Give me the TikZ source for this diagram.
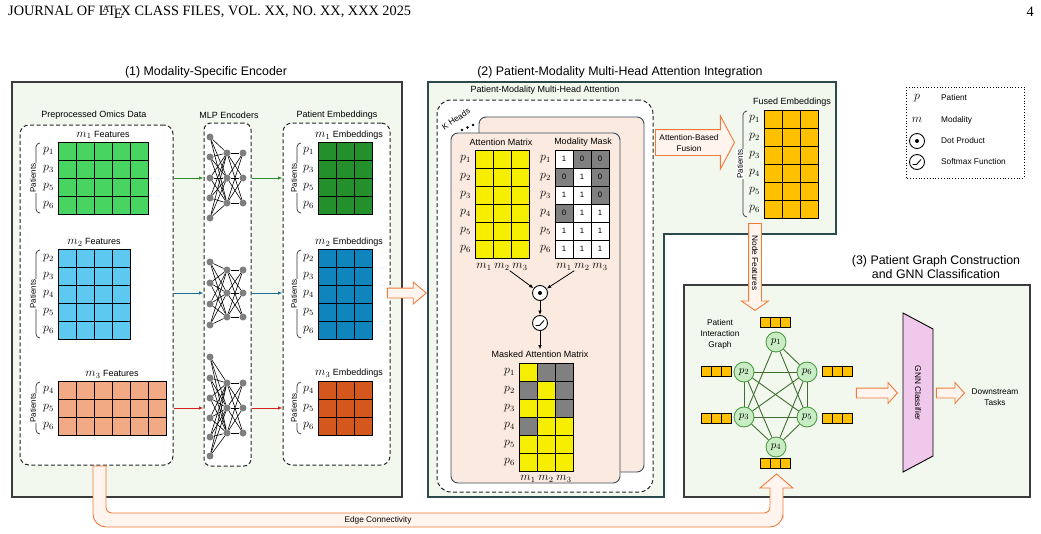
\documentclass[tikz,border=0pt]{standalone}
\usepackage{fontspec}
\setmainfont{Liberation Sans}
\newfontfamily\hdrfont{Liberation Serif}
\usetikzlibrary{arrows.meta, shapes.arrows}

\definecolor{cPanel}{HTML}{F2F8EE}
\definecolor{cFrame}{HTML}{3C3C3C}
\definecolor{cFrameB}{HTML}{2C4A4E}
\definecolor{cCard}{HTML}{FBEAE0}
\definecolor{cCardLine}{HTML}{3D4B5C}
\definecolor{cHollow}{HTML}{F07A3A}
\definecolor{cHollowFill}{HTML}{FFF5EE}
\definecolor{cOmA}{HTML}{48D460}
\definecolor{cOmB}{HTML}{5DC9F1}
\definecolor{cOmC}{HTML}{F1AA84}
\definecolor{cEmA}{HTML}{24902C}
\definecolor{cEmB}{HTML}{1085BD}
\definecolor{cEmC}{HTML}{D4571D}
\definecolor{cAtt}{HTML}{F6EE00}
\definecolor{cMask}{HTML}{808080}
\definecolor{cFused}{HTML}{FFC000}
\definecolor{cNode}{HTML}{C8EDC4}
\definecolor{cNodeLine}{HTML}{4F9A45}
\definecolor{cEdge}{HTML}{3F6E30}
\definecolor{cGNN}{HTML}{F0C8EC}
\definecolor{cArrA}{HTML}{2E8B2E}
\definecolor{cArrB}{HTML}{1D6E96}
\definecolor{cArrC}{HTML}{D42020}
\definecolor{cNeuron}{HTML}{7F7F7F}

% grid of square cells: x, y (top left), columns, rows, colour
\newcommand{\cellgrid}[5]{%
  \foreach \ci in {1,...,#3}{\foreach \ri in {1,...,#4}{%
    \draw[cell, fill=#5] ({#1+18*(\ci-1)},{#2+18*(\ri-1)}) rectangle ++(18,18);}}}
% bracket with the word Patients: name, x, top, bottom
\newcommand{\patbrace}[4]{%
  \draw[brc] ({#2+4},#3) -- (#2,#3) -- (#2,#4) -- ({#2+4},#4);
  \node[ptxt] (#1) at ({#2-3},{(#3+#4)/2}) {Patients};}

\begin{document}
\begin{tikzpicture}[
    x=1pt, y=-1pt, font=\fontsize{9}{11}\selectfont,
    panelA/.style={draw=cFrame, line width=1.3pt, fill=cPanel},
    panelB/.style={draw=cFrameB, line width=1.3pt, fill=cPanel},
    dbox/.style={draw=black!85, dash pattern=on 4pt off 2.5pt, line width=1pt,
                 rounded corners=9pt, fill=white},
    card/.style={draw=cCardLine, line width=0.9pt, rounded corners=7pt, fill=cCard},
    ttl/.style={font=\fontsize{12.4}{14.5}\selectfont, inner sep=1pt},
    lbl/.style={font=\fontsize{9}{11}\selectfont, inner sep=1pt},
    slbl/.style={font=\fontsize{8.3}{9}\selectfont, inner sep=1pt},
    mth/.style={font=\fontsize{11.5}{12}\selectfont, inner sep=0pt},
    ptxt/.style={font=\fontsize{8}{9}\selectfont, rotate=90, fill=white, inner sep=1pt},
    brc/.style={draw=black!80, line width=0.7pt, rounded corners=4pt},
    cell/.style={draw=black, line width=1pt},
    neuron/.style={circle, fill=cNeuron, inner sep=0pt, minimum size=7pt},
    wire/.style={black, line width=0.6pt},
    sig/.style={-{Latex[length=4.5pt, width=3.5pt]}, line width=0.8pt},
    hollowarr/.style={single arrow, draw=cHollow, fill=cHollowFill, line width=0.9pt,
                      inner sep=0pt, single arrow head indent=0pt},
    hollow/.style={draw=cHollow, fill=cHollowFill, line width=0.9pt},
    opc/.style={circle, draw=black, line width=0.9pt, fill=white, minimum size=15pt,
                inner sep=0pt},
    gnode/.style={circle, draw=cNodeLine, line width=0.9pt, fill=cNode,
                  minimum size=20pt, inner sep=0pt, font=\fontsize{11}{12}\selectfont},
    gedge/.style={cEdge, line width=0.9pt},
    fcell/.style={draw=black, line width=0.9pt, fill=cFused},
]
\useasboundingbox (0,0) rectangle (1041,533);

% ---------------------------------------------------------------------------
% page header
% ---------------------------------------------------------------------------
\node[anchor=west, font=\hdrfont\fontsize{14.3}{16}\selectfont, inner sep=0pt] (jhdr)
      at (8,12) {JOURNAL OF \LaTeX\ CLASS FILES, VOL. XX, NO. XX, XXX 2025};
\node[anchor=east, font=\hdrfont\fontsize{14.3}{16}\selectfont, inner sep=0pt] (pgno)
      at (1034,12) {4};

% ---------------------------------------------------------------------------
% panels
% ---------------------------------------------------------------------------
\draw[panelA] (12,82) rectangle (402,497);
\draw[panelB] (428,82) -- (836,82) -- (836,234) -- (664,234) -- (664,497)
              -- (428,497) -- cycle;
\draw[panelA] (684,285) rectangle (1030,497);

\node[ttl] (ttlA) at (206,72) {(1) Modality-Specific Encoder};
\node[ttl] (ttlB) at (620,72) {(2) Patient-Modality Multi-Head Attention Integration};
\node[ttl, align=center] (ttlC) at (936,267)
      {(3) Patient Graph Construction\\and GNN Classification};

% ===========================================================================
% (1) Modality-specific encoder
% ===========================================================================
\node[lbl] (omT) at (94,115) {Preprocessed Omics Data};
\node[lbl] (mlpT) at (229,115) {MLP Encoders};
\node[lbl] (embT) at (337,115) {Patient Embeddings};

\node[dbox, minimum width=153pt, minimum height=340pt] (omics) at (96.5,295) {};
\node[dbox, minimum width=47pt, minimum height=343pt, rounded corners=7pt] (mlp)
      at (227.5,294.5) {};
\node[dbox, minimum width=107pt, minimum height=342pt] (emb) at (336.5,294) {};

% ----- omics feature matrices -----
\node[lbl] (fAT) at (103,135) {{\large$m_1$} Features};
\cellgrid{58}{142}{5}{4}{cOmA}
\foreach \p [count=\k] in {1,3,5,6}
    \node[mth] (fAp\p) at (48.5,{133+18*\k}) {$p_{\p}$};
\patbrace{fApt}{36}{143}{213}

\node[lbl] (fBT) at (94,242) {{\large$m_2$} Features};
\cellgrid{58}{249}{4}{5}{cOmB}
\foreach \p [count=\k] in {2,...,6}
    \node[mth] (fBp\p) at (48.5,{240+18*\k}) {$p_{\p}$};
\patbrace{fBpt}{36}{250}{338}

\node[lbl] (fCT) at (112,374) {{\large$m_3$} Features};
\cellgrid{58}{381}{6}{3}{cOmC}
\foreach \p [count=\k] in {4,5,6}
    \node[mth] (fCp\p) at (48.5,{372+18*\k}) {$p_{\p}$};
\patbrace{fCpt}{36}{382}{434}

% ----- MLP encoders: input layer -> hidden -> output -----
\foreach \k/\ins/\hid in {1/{137,157,178,198,218}/{153,178,203},
                          2/{262,283,304,325}/{270,293,317},
                          3/{357,378,398,418,437,456}/{383,408,433}} {
    \foreach \y [count=\i] in \ins
        \node[neuron] (in\k-\i) at (210,\y) {};
    \foreach \y [count=\j] in \hid {
        \node[neuron] (hd\k-\j) at (227,\y) {};
        \node[neuron] (ou\k-\j) at (243,\y) {};
    }
    \foreach \y [count=\i] in \ins
        \foreach \j in {1,2,3}
            \draw[wire] (in\k-\i) -- (hd\k-\j);
    \foreach \a in {1,2,3}
        \foreach \b in {1,2,3}
            \draw[wire] (hd\k-\a) -- (ou\k-\b);
}

\foreach \k/\col in {1/cArrA, 2/cArrB, 3/cArrC} {
    \draw[sig, \col] (omics.east |- hd\k-2) -- (mlp.west |- hd\k-2);
    \draw[sig, \col] (mlp.east |- hd\k-2) -- (emb.west |- hd\k-2);
}

% ----- patient embeddings -----
\node[lbl] (eAT) at (349,135) {{\large$m_1$} Embeddings};
\cellgrid{318}{142}{3}{4}{cEmA}
\foreach \p [count=\k] in {1,3,5,6}
    \node[mth] (eAp\p) at (308.5,{133+18*\k}) {$p_{\p}$};
\patbrace{eApt}{297}{143}{213}

\node[lbl] (eBT) at (349,242) {{\large$m_2$} Embeddings};
\cellgrid{318}{249}{3}{5}{cEmB}
\foreach \p [count=\k] in {2,...,6}
    \node[mth] (eBp\p) at (308.5,{240+18*\k}) {$p_{\p}$};
\patbrace{eBpt}{297}{250}{338}

\node[lbl] (eCT) at (349,373) {{\large$m_3$} Embeddings};
\cellgrid{318}{381}{3}{3}{cEmC}
\foreach \p [count=\k] in {4,5,6}
    \node[mth] (eCp\p) at (308.5,{372+18*\k}) {$p_{\p}$};
\patbrace{eCpt}{297}{382}{434}

\node[hollowarr, inner ysep=4.5pt, minimum height=39pt, single arrow head extend=6pt,
      single arrow tip angle=80, anchor=tip] (toAtt) at (427,293) {};

% ===========================================================================
% (2) Patient-modality multi-head attention
% ===========================================================================
\node[lbl] (mhT) at (545,90) {Patient-Modality Multi-Head Attention};
\node[dbox, minimum width=216pt, minimum height=392pt, rounded corners=14pt] (heads)
      at (545,296) {};
\node[slbl, rotate=34, inner sep=0pt] (kh) at (456,119) {K Heads};
\foreach \dx/\dy in {462/130, 467.5/127.5, 473/125}
    \fill (\dx,\dy) circle (1.4);

\draw[card] (479,117) rectangle (644,472);
\draw[card] (451,133) rectangle (620,483);

% ----- attention matrix -----
\node[lbl] (attT) at (501,142) {Attention Matrix};
\cellgrid{475}{150}{3}{6}{cAtt}
\foreach \p in {1,...,6}
    \node[mth] (ap\p) at (465.5,{141+18*\p}) {$p_{\p}$};
\foreach \m in {1,2,3}
    \node[mth] (acol\m) at ({466+18*\m},267) {$m_{\m}$};

% ----- modality mask (0 = missing) -----
\node[lbl] (mkT) at (583,142) {Modality Mask};
\foreach \row [count=\ri] in {{1,0,0},{0,1,0},{1,1,0},{0,1,1},{1,1,1},{1,1,1}} {
    \foreach \v [count=\ci, evaluate=\v as \pct using int(100*\v)] in \row {
        \draw[cell, fill=white!\pct!cMask] ({555+18*(\ci-1)},{150+18*(\ri-1)})
              rectangle ++(18,18);
        \node[font=\fontsize{7.8}{8}\selectfont, inner sep=0pt] (mk\ri-\ci)
              at ({546+18*\ci},{141+18*\ri}) {\v};
        % masked attention uses the same pattern
        \draw[cell, fill=cAtt!\pct!cMask] ({519+18*(\ci-1)},{363+18*(\ri-1)})
              rectangle ++(18,18);
    }
}
\foreach \p in {1,...,6}
    \node[mth] (mp\p) at (545.5,{141+18*\p}) {$p_{\p}$};
\foreach \m in {1,2,3}
    \node[mth] (mcol\m) at ({546+18*\m},267) {$m_{\m}$};

% ----- dot product and softmax -----
\node[opc] (dot) at (540,293) {};
\fill (dot.center) circle (2);
\node[opc] (smax) at (540,323) {};
\draw[line width=0.9pt] ([shift={(-4.5,2.5)}]smax.center) -- ([shift={(-0.5,2.5)}]smax.center)
      -- ([shift={(4,-2.5)}]smax.center);

\draw[sig] (acol2.south east) -- (dot);
\draw[sig] (mcol2.south west) -- (dot);
\draw[sig] (dot) -- (smax);

% ----- masked attention matrix -----
\node[lbl] (maT) at (540,354) {Masked Attention Matrix};
\draw[sig] (smax) -- (maT);
\foreach \p in {1,...,6}
    \node[mth] (qp\p) at (509.5,{354+18*\p}) {$p_{\p}$};
\foreach \m in {1,2,3}
    \node[mth] (qcol\m) at ({510+18*\m},479) {$m_{\m}$};

% ----- fusion -----
\node[hollowarr, inner ysep=12.5pt, minimum height=79pt, single arrow head extend=13.5pt,
      single arrow tip angle=124, anchor=tip] (fuse) at (735,142.5) {};
\node[slbl, align=center, font=\fontsize{8.3}{11}\selectfont] (fuseT) at (689,143)
      {Attention-Based\\Fusion};

\node[lbl] (fuT) at (792,102) {Fused Embeddings};
\cellgrid{764}{110}{3}{6}{cFused}
\foreach \p in {1,...,6}
    \node[mth] (up\p) at (754.5,{101+18*\p}) {$p_{\p}$};
\patbrace{fupt}{743}{111}{217}

\node[hollowarr, rotate=-90, inner ysep=6pt, minimum height=87pt,
      single arrow head extend=7pt, single arrow tip angle=110, anchor=tip] (nodeF)
      at (755,311) {};
\node[slbl, rotate=-90] (nodeFT) at (755,263) {Node Features};

% ===========================================================================
% (3) Patient graph and GNN classifier
% ===========================================================================
\node[slbl, align=center, font=\fontsize{8.3}{11}\selectfont] (pigT) at (720,334)
      {Patient\\Interaction\\Graph};

\foreach \n/\px/\py in {1/776/342, 2/744/372, 6/807/372, 3/744/417, 5/807/417, 4/776/447}
    \node[gnode] (g\n) at (\px,\py) {$p_{\n}$};
\foreach \a/\b in {1/3,1/5,1/6,2/3,2/4,2/5,2/6,3/4,3/5,3/6,4/5,4/6,5/6}
    \draw[gedge] (g\a) -- (g\b);

% node feature vectors
\foreach \n/\bx/\by in {1/760/317, 2/701/366, 6/822/366, 3/701/413, 5/822/413, 4/760/458}
    \foreach \i in {0,1,2}
        \draw[fcell] ({\bx+10*\i},\by) rectangle ++(10,10);
\coordinate (barD) at (775,468);

\node[hollowarr, inner ysep=4.5pt, minimum height=41pt, single arrow head extend=5.5pt,
      single arrow tip angle=96, anchor=tip] (toGnn) at (898,393) {};
\draw[draw=black, line width=0.9pt, fill=cGNN] (903,313) -- (933,329) -- (933,456)
      -- (903,472) -- cycle;
\node[slbl, rotate=-90] (gnnT) at (918,393) {GNN Classifier};
\node[hollowarr, inner ysep=4.5pt, minimum height=28pt, single arrow head extend=5.5pt,
      single arrow tip angle=96, anchor=tip] (toOut) at (965,393) {};
\node[slbl, align=center, font=\fontsize{8.3}{11}\selectfont] (downT) at (995,397)
      {Downstream\\Tasks};

% ----- edge connectivity from the omics data to the graph -----
\draw[hollow] (93,466) -- (93,480) [rounded corners=13pt] -- (93,527) -- (783,527)
      -- (783,505) [sharp corners] -- (783,488) -- (793,488) -- (776.5,474) -- (760,488)
      -- (770,488) -- (770,500) [rounded corners=6pt] -- (770,513) -- (106,513)
      -- (106,495) [sharp corners] -- (106,466) -- cycle;
\node[slbl] (edgeT) at (378,520) {Edge Connectivity};

% ===========================================================================
% legend
% ===========================================================================
\draw[line width=0.8pt, dotted] (906,87) rectangle (1024,178);
\node[mth] (lgP) at (917,98) {$p$};
\node[slbl, anchor=west] (lgPT) at (940,98) {Patient};
\node[mth] (lgM) at (917,120) {$m$};
\node[slbl, anchor=west] (lgMT) at (940,120) {Modality};
\node[opc] (lgD) at (917,141) {};
\fill (lgD.center) circle (2);
\node[slbl, anchor=west] (lgDT) at (940,141) {Dot Product};
\node[opc] (lgS) at (917,162) {};
\draw[line width=0.9pt] ([shift={(-4.5,2.5)}]lgS.center) -- ([shift={(-0.5,2.5)}]lgS.center)
      -- ([shift={(4,-2.5)}]lgS.center);
\node[slbl, anchor=west] (lgST) at (940,162) {Softmax Function};

\end{tikzpicture}
\end{document}
